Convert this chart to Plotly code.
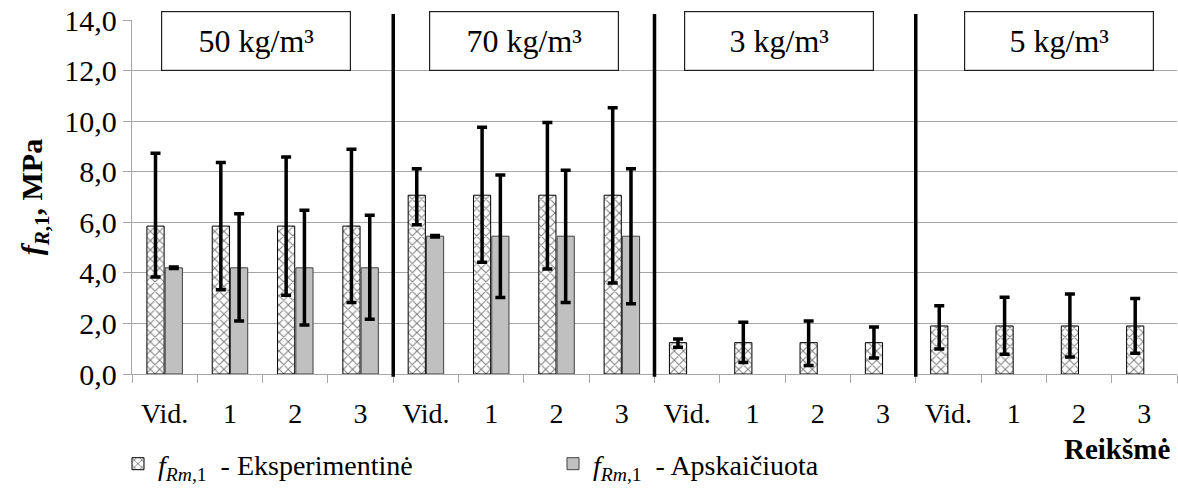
import plotly.graph_objects as go

# Tick labels along the x axis (four mixes, four values each)
categories = ["Vid.", "1", "2", "3"] * 4
groups = ["50 kg/m³", "70 kg/m³", "3 kg/m³", "5 kg/m³"]
group_label_x = [1.4, 5.5, 9.4, 13.7]
group_bounds = [3.5, 7.5, 11.5]

# Experimental residual strength f_Rm,1 (MPa) with min / max range
exp_mean = [5.85, 5.85, 5.85, 5.85, 7.07, 7.07, 7.07, 7.07,
            1.24, 1.24, 1.24, 1.24, 1.90, 1.90, 1.90, 1.90]
exp_upper = [8.73, 8.36, 8.58, 8.89, 8.12, 9.76, 9.95, 10.53,
             1.38, 2.05, 2.10, 1.86, 2.70, 3.04, 3.16, 2.99]
exp_lower = [3.84, 3.33, 3.11, 2.83, 5.90, 4.42, 4.15, 3.60,
             1.06, 0.45, 0.34, 0.63, 0.99, 0.78, 0.67, 0.82]

# Calculated residual strength f_Rm,1 (MPa) with min / max range
calc_mean = [4.20, 4.20, 4.20, 4.20, 5.45, 5.45, 5.45, 5.45,
             None, None, None, None, None, None, None, None]
calc_upper = [4.23, 6.34, 6.48, 6.28, 5.48, 7.87, 8.06, 8.12,
              None, None, None, None, None, None, None, None]
calc_lower = [4.17, 2.10, 1.94, 2.17, 5.42, 3.03, 2.83, 2.78,
              None, None, None, None, None, None, None, None]

x_pos = list(range(len(categories)))


def plus(mean, upper):
    return [0 if m is None else u - m for m, u in zip(mean, upper)]


def minus(mean, lower):
    return [0 if m is None else m - l for m, l in zip(mean, lower)]


FONT = "Liberation Serif"
GRID = "#a6a6a6"
err_style = dict(type="data", symmetric=False, color="black", thickness=3.5, width=5)

fig = go.Figure()
fig.add_trace(go.Bar(
    x=x_pos, y=exp_mean,
    name="<i>f</i><sub><i>Rm</i>,1</sub>&nbsp;&nbsp;- Eksperimentinė",
    marker=dict(color="white",
                pattern=dict(shape="x", fgcolor="black", bgcolor="white", size=6.5, solidity=0.3),
                line=dict(color="black", width=1)),
    error_y=dict(array=plus(exp_mean, exp_upper), arrayminus=minus(exp_mean, exp_lower), **err_style),
))
fig.add_trace(go.Bar(
    x=x_pos, y=calc_mean,
    name="<i>f</i><sub><i>Rm</i>,1</sub>&nbsp;&nbsp;- Apskaičiuota",
    marker=dict(color="#c0c0c0", line=dict(color="#404040", width=1)),
    error_y=dict(array=plus(calc_mean, calc_upper), arrayminus=minus(calc_mean, calc_lower), **err_style),
))

# Thick separators between the mixes
for xb in group_bounds:
    fig.add_shape(type="line", xref="x", yref="paper", x0=xb, x1=xb, y0=-0.008, y1=1.017,
                  line=dict(color="black", width=3.5), layer="above")

# Mix labels in framed boxes
for gx, gname in zip(group_label_x, groups):
    fig.add_annotation(x=gx, y=12, xref="x", yref="y", yanchor="bottom", text=gname,
                       showarrow=False, width=188, height=58, bgcolor="white",
                       bordercolor="#202020", borderwidth=1.2, borderpad=0,
                       font=dict(family=FONT, size=32, color="black"))

# Axis caption under the right end of the x axis
fig.add_annotation(x=0.995, y=-0.213, xref="paper", yref="paper",
                   xanchor="right", yanchor="middle", text="<b>Reikšmė</b>", showarrow=False,
                   font=dict(family=FONT, size=29, color="black"))

fig.update_layout(
    width=1178, height=491,
    margin=dict(l=132, r=1, t=20, b=117),
    paper_bgcolor="white", plot_bgcolor="white",
    separators=", ",
    barmode="group", bargap=0.44, bargroupgap=0.06,
    font=dict(family=FONT, size=28, color="black"),
    showlegend=True,
    legend=dict(orientation="h", xref="container", yref="container",
                x=118 / 1178, y=1 - 464 / 491, xanchor="left", yanchor="middle",
                entrywidth=390, entrywidthmode="pixels",
                font=dict(family=FONT, size=28, color="black"),
                bgcolor="rgba(0,0,0,0)"),
)

fig.update_xaxes(
    range=[-0.5, len(categories) - 0.5],
    tickmode="array", tickvals=x_pos, ticktext=categories,
    ticks="", ticklabelstandoff=14,
    tickfont=dict(family=FONT, size=28, color="black"),
    showline=True, linecolor=GRID, linewidth=1.3,
    showgrid=False, zeroline=False,
    minor=dict(tickmode="linear", tick0=-0.5, dtick=1, ticks="outside",
               ticklen=8, tickcolor=GRID, tickwidth=1.3),
)
fig.update_yaxes(
    range=[0, 14], dtick=2, tickformat=".1f",
    ticks="outside", ticklen=8, tickcolor=GRID, tickwidth=1.3,
    tickfont=dict(family=FONT, size=30, color="black"),
    showline=True, linecolor=GRID, linewidth=1.3,
    showgrid=True, gridcolor=GRID, gridwidth=1.3,
    zeroline=False,
    title=dict(text="<b><i>f</i><sub><i>R</i>,1</sub>, MPa</b>", standoff=12,
               font=dict(family=FONT, size=30, color="black")),
)

fig.write_html("out.html")
